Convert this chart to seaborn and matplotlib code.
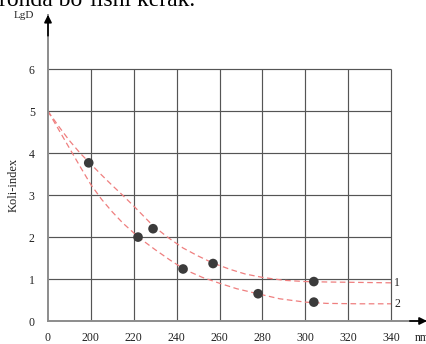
import numpy as np
import pandas as pd
import matplotlib
matplotlib.use("Agg")
import matplotlib.pyplot as plt
import seaborn as sns

# ---- data ----
x_ticks = [180, 200, 220, 240, 260, 280, 300, 320, 340]
x_tick_labels = ["0", "200", "220", "240", "260", "280", "300", "320", "340"]
y_ticks = [0, 1, 2, 3, 4, 5, 6]
y_tick_labels = ["0", "1", "2", "3", "4", "5", "6"]

point_nm = [199, 222, 229, 243, 257, 278, 304, 304]
point_val = [3.77, 2.0, 2.2, 1.24, 1.37, 0.65, 0.94, 0.45]

curve1_nm = [180, 185, 190, 195, 200, 205, 210, 215, 220, 229, 236, 243, 250, 257,
             265, 272, 280, 290, 300, 310, 325, 340]
curve1_val = [5.0, 4.64, 4.3, 4.0, 3.74, 3.48, 3.23, 2.99, 2.74, 2.27, 1.99, 1.74,
              1.55, 1.38, 1.23, 1.12, 1.04, 0.97, 0.94, 0.93, 0.92, 0.91]

curve2_nm = [180, 185, 190, 195, 200, 205, 210, 215, 220, 225, 230, 237, 244, 252,
             260, 268, 277, 288, 300, 310, 325, 340]
curve2_val = [5.0, 4.56, 4.12, 3.68, 3.25, 2.9, 2.6, 2.33, 2.1, 1.89, 1.7, 1.45,
              1.22, 1.04, 0.9, 0.77, 0.66, 0.53, 0.45, 0.42, 0.41, 0.41]

curve_labels = ["1", "2"]

# ---- figure ----
sns.set_style("white")
plt.rcParams["font.family"] = ["Liberation Serif", "DejaVu Serif"]

W, H = 427, 344
fig = plt.figure(figsize=(W / 100, H / 100), dpi=100)
x0_px, y0_px = 48, 321
px_per_nm = (391 - 48) / 160
px_per_unit = 41.95
xmax = 180 + (W - x0_px) / px_per_nm
ymax = 7.3
ax = fig.add_axes([x0_px / W, (H - y0_px) / H,
                   (W - x0_px) / W, ymax * px_per_unit / H])
ax.set_xlim(180, xmax)
ax.set_ylim(0, ymax)

grid_c = "#555555"
ax.hlines(y_ticks[1:], x_ticks[0], x_ticks[-1], color=grid_c, lw=0.85, zorder=1)
ax.vlines(x_ticks[1:], 0, y_ticks[-1], color=grid_c, lw=0.85, zorder=1)

df1 = pd.DataFrame({"nm": curve1_nm, "val": curve1_val})
df2 = pd.DataFrame({"nm": curve2_nm, "val": curve2_val})
red = "#ef7f7f"
for d in (df1, df2):
    sns.lineplot(data=d, x="nm", y="val", ax=ax, sort=False, estimator=None,
                 color=red, lw=0.9, linestyle=(0, (4.5, 2.8)), zorder=2)

pts = pd.DataFrame({"nm": point_nm, "val": point_val})
sns.scatterplot(data=pts, x="nm", y="val", ax=ax, color="#3b3b3b", s=48,
                edgecolor="none", zorder=3)

# axes with arrows
for s in ("top", "right"):
    ax.spines[s].set_visible(False)
for s in ("left", "bottom"):
    ax.spines[s].set_color("#8c8c8c")
    ax.spines[s].set_linewidth(1.4)
ax.annotate("", xy=(180, ymax), xytext=(180, ymax - 0.5),
            arrowprops=dict(arrowstyle="-|>", color="black", lw=1.2,
                            mutation_scale=11, shrinkA=0, shrinkB=0),
            annotation_clip=False)
ax.annotate("", xy=(xmax, 0), xytext=(xmax - 8, 0),
            arrowprops=dict(arrowstyle="-|>", color="black", lw=1.2,
                            mutation_scale=11, shrinkA=0, shrinkB=0),
            annotation_clip=False)

ax.set_xticks(x_ticks)
ax.set_xticklabels(x_tick_labels)
ax.set_yticks(y_ticks)
ax.set_yticklabels(y_tick_labels)
ax.tick_params(axis="both", length=0, labelsize=8.5, colors="#222222")
ax.tick_params(axis="x", pad=7.8)
ax.tick_params(axis="y", pad=9.5)
ax.set_xlabel("")
ax.set_ylabel("")

fig.text(14 / W, 1 - 185 / H, "Koli-index", rotation=90, ha="center",
         va="center", fontsize=9, color="#222222")
fig.text(24 / W, 1 - 16 / H, "LgD", ha="center", va="center", fontsize=8,
         color="#222222")
fig.text(415 / W, 1 - 338 / H, "nm", ha="left", va="center", fontsize=8.5,
         color="#222222")
fig.text(-0.003, 1 - 6.5 / H, "ronda bo\u2018lishi kerak.", ha="left",
         va="baseline", fontsize=17, color="black")

ax.text(341.5, curve1_val[-1], curve_labels[0], ha="left", va="center",
        fontsize=8.5, color="#222222")
ax.text(341.5, curve2_val[-1], curve_labels[1], ha="left", va="center",
        fontsize=8.5, color="#222222")

fig.savefig("out.png", dpi=100)
